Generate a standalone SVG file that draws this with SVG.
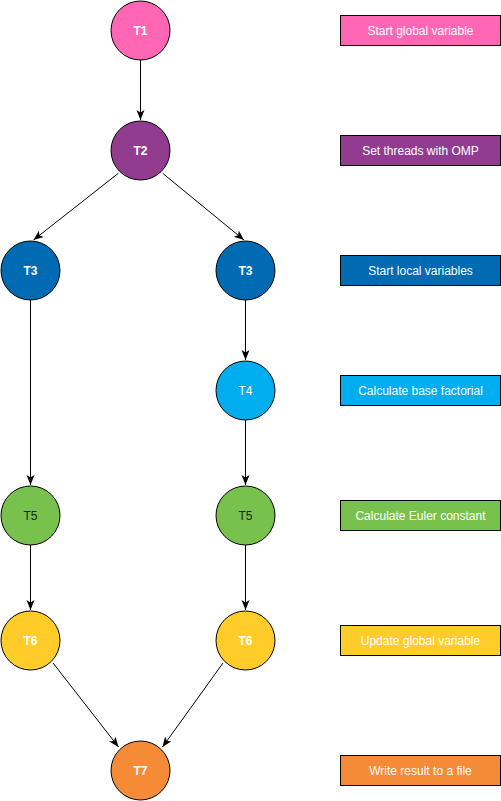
<svg xmlns="http://www.w3.org/2000/svg" width="501" height="801" viewBox="0 0 501 801">
<style>
  .n { stroke:#000; stroke-width:1; }
  .t { font-family:"Liberation Sans", Arial, sans-serif; font-size:12px; fill:#fff; text-anchor:middle; }
  .b { font-weight:bold; }
  .e { stroke:#000; stroke-width:1; fill:none; marker-end:url(#arr); }
  .pink { fill:#FF66B3; }
  .purple { fill:#923C90; }
  .dblue { fill:#006AB2; }
  .lblue { fill:#00AEEF; }
  .green { fill:#78C14C; }
  .yellow { fill:#FFCC29; }
  .orange { fill:#F58A37; }
</style>
<defs>
  <marker id="arr" markerUnits="userSpaceOnUse" markerWidth="12" markerHeight="10" refX="10" refY="4" orient="auto">
    <path d="M0,0 L10,4 L0,8 L2.5,4 Z" fill="#000"/>
  </marker>
</defs>
<rect width="501" height="801" fill="#fff"/>
<g id="connectors">
  <line class="e" x1="140.5" y1="60" x2="140.5" y2="120"/>
  <line class="e" x1="118.3" y1="173.3" x2="33.5" y2="240"/>
  <line class="e" x1="162.7" y1="173.3" x2="244" y2="240"/>
  <line class="e" x1="30.5" y1="300" x2="30.5" y2="485"/>
  <line class="e" x1="245.5" y1="300" x2="245.5" y2="360"/>
  <line class="e" x1="245.5" y1="420" x2="245.5" y2="485"/>
  <line class="e" x1="30.5" y1="545" x2="30.5" y2="610"/>
  <line class="e" x1="245.5" y1="545" x2="245.5" y2="610"/>
  <line class="e" x1="53" y1="663" x2="118.5" y2="747"/>
  <line class="e" x1="223" y1="663" x2="162.5" y2="747"/>
</g>
<g id="T1"><circle class="n pink" cx="140.5" cy="30.5" r="29.5"/><text class="t b" x="140.5" y="34.5">T1</text></g>
<g id="T2"><circle class="n purple" cx="140.5" cy="150.5" r="29.5"/><text class="t b" x="140.5" y="154.5">T2</text></g>
<g id="T3a"><circle class="n dblue" cx="30.5" cy="270.5" r="29.5"/><text class="t b" x="30.5" y="274.5">T3</text></g>
<g id="T3b"><circle class="n dblue" cx="245.5" cy="270.5" r="29.5"/><text class="t b" x="245.5" y="274.5">T3</text></g>
<g id="T4"><circle class="n lblue" cx="245.5" cy="390.5" r="29.5"/><text class="t" x="245.5" y="394.5">T4</text></g>
<g id="T5a"><circle class="n green" cx="30.5" cy="515.5" r="29.5"/><text class="t" x="30.5" y="519.5" style="fill:#222">T5</text></g>
<g id="T5b"><circle class="n green" cx="245.5" cy="515.5" r="29.5"/><text class="t" x="245.5" y="519.5" style="fill:#222">T5</text></g>
<g id="T6a"><circle class="n yellow" cx="30.5" cy="640.5" r="29.5"/><text class="t b" x="30.5" y="644.5">T6</text></g>
<g id="T6b"><circle class="n yellow" cx="245.5" cy="640.5" r="29.5"/><text class="t b" x="245.5" y="644.5">T6</text></g>
<g id="T7"><circle class="n orange" cx="140.5" cy="770.5" r="29.5"/><text class="t b" x="140.5" y="774.5">T7</text></g>
<g id="L1"><rect class="n pink" x="340.5" y="15.5" width="160" height="30"/><text class="t" x="420.5" y="34.5">Start global variable</text></g>
<g id="L2"><rect class="n purple" x="340.5" y="135.5" width="160" height="30"/><text class="t" x="420.5" y="154.5">Set threads with OMP</text></g>
<g id="L3"><rect class="n dblue" x="340.5" y="255.5" width="160" height="30"/><text class="t" x="420.5" y="274.5">Start local variables</text></g>
<g id="L4"><rect class="n lblue" x="340.5" y="375.5" width="160" height="30"/><text class="t" x="420.5" y="394.5">Calculate base factorial</text></g>
<g id="L5"><rect class="n green" x="340.5" y="500.5" width="160" height="30"/><text class="t" x="420.5" y="519.5">Calculate Euler constant</text></g>
<g id="L6"><rect class="n yellow" x="340.5" y="625.5" width="160" height="30"/><text class="t" x="420.5" y="644.5">Update global variable</text></g>
<g id="L7"><rect class="n orange" x="340.5" y="755.5" width="160" height="30"/><text class="t" x="420.5" y="774.5">Write result to a file</text></g>
</svg>
